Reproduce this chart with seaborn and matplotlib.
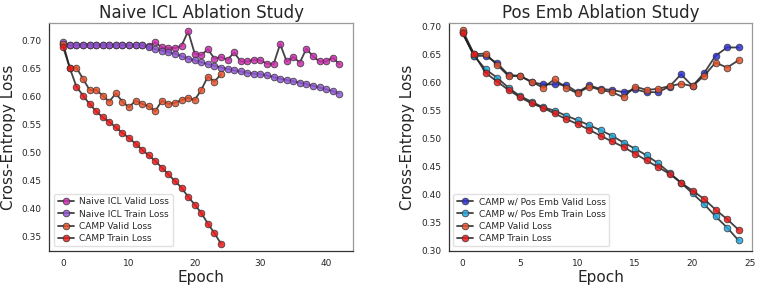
import numpy as np
import pandas as pd
import matplotlib
matplotlib.use("Agg")
import matplotlib.pyplot as plt
import seaborn as sns

# --------------------------
# Data
# --------------------------

naive_valid = [0.695, 0.692, 0.692, 0.693, 0.693, 0.692, 0.692, 0.692, 0.692, 0.692,
               0.692, 0.692, 0.692, 0.690, 0.697, 0.688, 0.687, 0.687, 0.691, 0.717,
               0.677, 0.674, 0.685, 0.668, 0.671, 0.666, 0.679, 0.663, 0.663, 0.666,
               0.665, 0.659, 0.658, 0.694, 0.663, 0.671, 0.661, 0.686, 0.672, 0.663,
               0.663, 0.670, 0.658]
naive_train = [0.697, 0.692, 0.692, 0.693, 0.693, 0.692, 0.692, 0.692, 0.692, 0.692,
               0.692, 0.692, 0.692, 0.689, 0.685, 0.682, 0.679, 0.677, 0.6725, 0.668,
               0.665, 0.6615, 0.658, 0.6555, 0.652, 0.6495, 0.647, 0.645, 0.6427, 0.641,
               0.640, 0.638, 0.635, 0.632, 0.630, 0.6275, 0.625, 0.6225, 0.6195, 0.6165,
               0.613, 0.610, 0.6055]
camp_valid = [0.694, 0.651, 0.652, 0.632, 0.612, 0.612, 0.602, 0.591, 0.606, 0.591,
              0.581, 0.593, 0.587, 0.583, 0.574, 0.593, 0.587, 0.589, 0.594, 0.598,
              0.594, 0.612, 0.636, 0.627, 0.640]
camp_train = [0.688, 0.651, 0.618, 0.602, 0.587, 0.574, 0.563, 0.555, 0.545, 0.535,
              0.526, 0.516, 0.505, 0.495, 0.485, 0.473, 0.461, 0.449, 0.437, 0.421,
              0.407, 0.392, 0.373, 0.356, 0.337]
pos_valid = [0.690, 0.648, 0.648, 0.635, 0.614, 0.612, 0.601, 0.597, 0.597, 0.596,
             0.583, 0.595, 0.589, 0.587, 0.583, 0.588, 0.583, 0.583, 0.593, 0.615,
             0.594, 0.617, 0.648, 0.663, 0.663]
pos_train = [0.690, 0.648, 0.624, 0.609, 0.591, 0.576, 0.566, 0.556, 0.550, 0.541,
             0.533, 0.524, 0.515, 0.505, 0.493, 0.482, 0.470, 0.456, 0.439, 0.421,
             0.402, 0.383, 0.361, 0.341, 0.318]

left_series = [
    ("Naive ICL Valid Loss", naive_valid, "#cc2fae"),
    ("Naive ICL Train Loss", naive_train, "#9257d6"),
    ("CAMP Valid Loss", camp_valid, "#e8522a"),
    ("CAMP Train Loss", camp_train, "#ee1a1a"),
]
right_series = [
    ("CAMP w/ Pos Emb Valid Loss", pos_valid, "#3030d8"),
    ("CAMP w/ Pos Emb Train Loss", pos_train, "#25a8dc"),
    ("CAMP Valid Loss", camp_valid, "#e8522a"),
    ("CAMP Train Loss", camp_train, "#ee1a1a"),
]

# --------------------------
# Plot
# --------------------------

sns.set_style("white")
plt.rcParams["font.family"] = ["DejaVu Sans"]

fig, axes = plt.subplots(1, 2, figsize=(7.61, 2.89), dpi=100)
fig.subplots_adjust(left=0.065, right=0.9886, top=0.919, bottom=0.1315, wspace=0.315)


def draw(ax, series, title):
    for label, vals, col in series:
        df = pd.DataFrame({"epoch": np.arange(len(vals)), "loss": vals})
        sns.lineplot(
            data=df, x="epoch", y="loss", ax=ax, label=label,
            color="#222222", alpha=0.85, linewidth=1.3,
            marker="o", markersize=4.8, markerfacecolor=col,
            markeredgecolor="#333333", markeredgewidth=0.6,
        )
    ax.set_title(title, fontsize=12, pad=4)
    ax.set_xlabel("Epoch", fontsize=11, labelpad=2)
    ax.set_ylabel("Cross-Entropy Loss", fontsize=11, labelpad=4)
    ax.tick_params(axis="both", labelsize=6.5, length=3, width=0.7,
                   color="#333333", pad=2.5)
    for s in ["left", "bottom"]:
        ax.spines[s].set_color("#333333")
    for s in ["top", "right"]:
        ax.spines[s].set_color("#999999")
    for s in ax.spines.values():
        s.set_linewidth(0.9)
    leg = ax.legend(loc="lower left", fontsize=6.5, framealpha=0.9,
                    handlelength=1.8, borderpad=0.4, labelspacing=0.35,
                    handletextpad=0.6)
    leg.get_frame().set_edgecolor("#dddddd")


draw(axes[0], left_series, "Naive ICL Ablation Study")
draw(axes[1], right_series, "Pos Emb Ablation Study")

axes[0].set_xlim(-2.1, 44.1)
axes[0].set_ylim(0.324, 0.731)
axes[0].set_xticks([0, 10, 20, 30, 40])
axes[0].set_yticks([0.35, 0.40, 0.45, 0.50, 0.55, 0.60, 0.65, 0.70])

axes[1].set_xlim(-1.2, 25.2)
axes[1].set_ylim(0.299, 0.706)
axes[1].set_xticks([0, 5, 10, 15, 20, 25])
axes[1].set_yticks([0.30, 0.35, 0.40, 0.45, 0.50, 0.55, 0.60, 0.65, 0.70])

plt.savefig("out.png", dpi=100)
plt.close()
